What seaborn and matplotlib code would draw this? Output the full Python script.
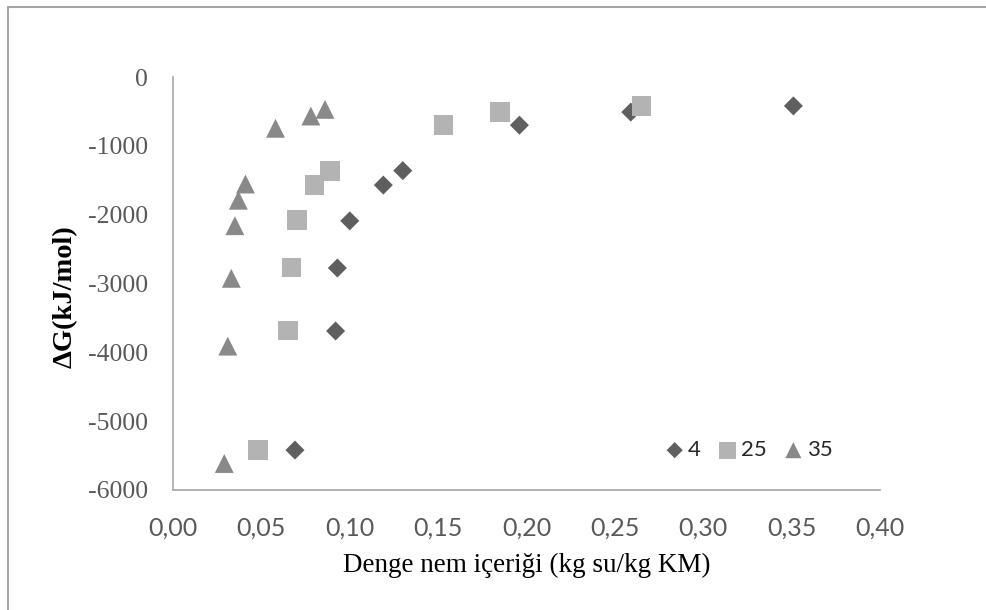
import matplotlib
matplotlib.use("Agg")
import matplotlib.pyplot as plt
import seaborn as sns
import pandas as pd
from matplotlib.lines import Line2D

# ---- data ----
x_4 = [0.069, 0.092, 0.093, 0.100, 0.119, 0.130, 0.196, 0.259, 0.351]
y_4 = [-5420, -3690, -2775, -2090, -1570, -1360, -700, -510, -420]

x_25 = [0.048, 0.065, 0.067, 0.070, 0.080, 0.089, 0.153, 0.185, 0.265]
y_25 = [-5420, -3685, -2770, -2080, -1570, -1365, -700, -513, -417]

x_35 = [0.029, 0.031, 0.033, 0.035, 0.037, 0.041, 0.058, 0.078, 0.086]
y_35 = [-5615, -3910, -2925, -2160, -1790, -1555, -745, -567, -470]

series_labels = ["4", "25", "35"]
x_ticks = [0.00, 0.05, 0.10, 0.15, 0.20, 0.25, 0.30, 0.35, 0.40]
y_ticks = [0, -1000, -2000, -3000, -4000, -5000, -6000]
x_label = "Denge nem içeriği (kg su/kg KM)"
y_label = "ΔG(kJ/mol)"

sns.set_theme(style="white")
plt.rcParams['font.family'] = ['DejaVu Sans']

fig = plt.figure(figsize=(9.86, 6.10), dpi=100)
ax = fig.add_axes([173/986, 1-490/610, (880-173)/986, (490-77)/610])

styles = [
    (x_4, y_4, "D", "#5f5f5f", 94),
    (x_25, y_25, "s", "#b3b3b3", 200),
    (x_35, y_35, "^", "#898989", 185),
]
for (xs, ys, m, c, s), lab in zip(styles, series_labels):
    df = pd.DataFrame({"x": xs, "y": ys})
    sns.scatterplot(data=df, x="x", y="y", marker=m, color=c, s=s,
                    edgecolor="none", linewidth=0, label=lab, ax=ax, zorder=3)

ax.set_xlim(0, 0.40)
ax.set_ylim(-6000, 0)
ax.set_xticks(x_ticks)
ax.set_xticklabels([f"{v:.2f}".replace(".", ",") for v in x_ticks],
                   family="Lato", fontsize=18, color="#595959")
ax.set_yticks(y_ticks)
ax.set_yticklabels([str(v) for v in y_ticks],
                   family="Liberation Serif", fontsize=18.5, color="#595959")
ax.tick_params(axis="x", length=0, pad=19)
ax.tick_params(axis="y", length=0, pad=18)

for side in ["top", "right"]:
    ax.spines[side].set_visible(False)
for side in ["left", "bottom"]:
    ax.spines[side].set_color("#a6a6a6")
    ax.spines[side].set_linewidth(1.2)
ax.grid(False)

ax.set_xlabel(x_label, family="Liberation Serif", fontsize=19.5, color="black")
ax.xaxis.label.set_va("center")
ax.xaxis.set_label_coords(0.5, (490-565)/413)
ax.set_ylabel(y_label, family="Liberation Serif", fontsize=20.5, fontweight="bold",
              color="black")
ax.yaxis.label.set_va("center")
ax.yaxis.set_label_coords((65-173)/707, (490-297)/413)

leg = ax.legend(loc="center", bbox_to_anchor=(748/986, 1-450/610),
                bbox_transform=fig.transFigure, ncol=3, frameon=False,
                prop={"family": "Lato", "size": 16}, handletextpad=0.1,
                columnspacing=0.7, markerscale=0.85, handlelength=1.0,
                borderaxespad=0, borderpad=0)
for t in leg.get_texts():
    t.set_color("#262626")

# outer chart border (only top/left visible in crop)
fig.add_artist(Line2D([8/986, 1.0], [1-7/610, 1-7/610], transform=fig.transFigure,
                      color="#a6a6a6", linewidth=1.5))
fig.add_artist(Line2D([8/986, 8/986], [0, 1-7/610], transform=fig.transFigure,
                      color="#a6a6a6", linewidth=1.5))

fig.savefig("out.png", dpi=100)
